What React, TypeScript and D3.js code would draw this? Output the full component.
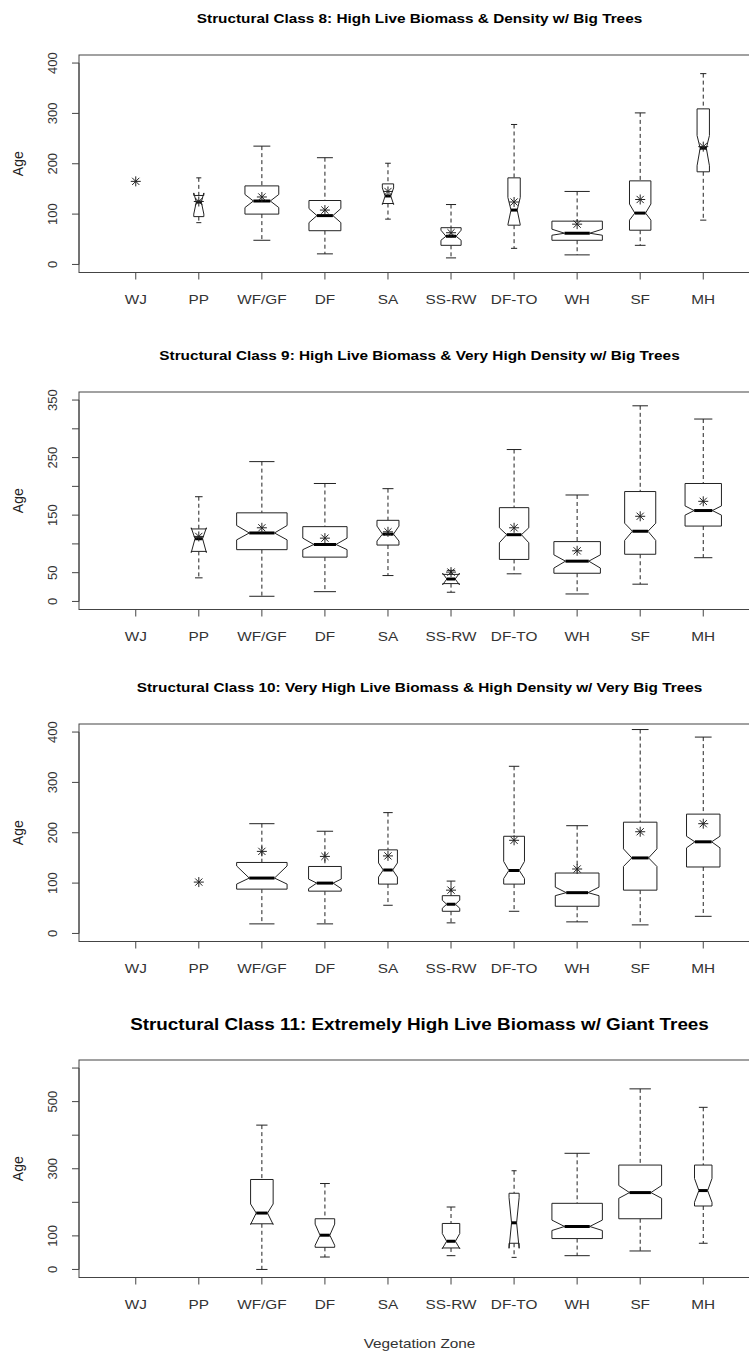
import * as d3 from 'd3'

const CATEGORIES = ['WJ', 'PP', 'WF/GF', 'DF', 'SA', 'SS-RW', 'DF-TO', 'WH', 'SF', 'MH']

// Structural class 8
const C8_LO = [null, 83, 48, 21, 90, 13, 32, 19, 38, 88]
const C8_Q1 = [null, 95, 100, 67, 121, 38, 78, 48, 68, 184]
const C8_MED = [null, 124, 126, 97, 136, 56, 108, 62, 102, 231]
const C8_Q3 = [null, 137, 156, 127, 160, 73, 172, 86, 166, 309]
const C8_HI = [null, 172, 235, 212, 201, 119, 278, 145, 301, 379]
const C8_MEAN = [165, 125, 134, 108, 145, 63, 124, 80, 129, 234]
const C8_NOTCH_LO = [null, 100, 113, 83, 119, 48, 79, 58, 88, 196]
const C8_NOTCH_HI = [null, 142, 139, 111, 152, 68, 133, 70, 120, 256]
const C8_N = [1, 4, 45, 40, 5, 16, 6, 100, 18, 6]

// Structural class 9
const C9_LO = [null, 41, 9, 17, 45, 16, 48, 13, 30, 76]
const C9_Q1 = [null, 87, 90, 77, 98, 31, 73, 49, 82, 131]
const C9_MED = [null, 109, 119, 99, 117, 39, 116, 70, 122, 158]
const C9_Q3 = [null, 126, 154, 130, 141, 47, 163, 104, 191, 205]
const C9_HI = [null, 182, 243, 205, 196, 54, 264, 185, 340, 317]
const C9_MEAN = [null, 113, 128, 110, 121, 51, 128, 88, 148, 174]
const C9_NOTCH_LO = [null, 85, 107, 90, 105, 29, 102, 58, 106, 150]
const C9_NOTCH_HI = [null, 128, 132, 110, 131, 49, 128, 81, 136, 166]
const C9_N = [0, 9, 100, 77, 19, 11, 34, 85, 38, 52]

// Structural class 10
const C10_LO = [null, null, 19, 19, 56, 21, 44, 23, 17, 34]
const C10_Q1 = [null, null, 88, 84, 98, 44, 98, 54, 86, 132]
const C10_MED = [null, null, 110, 100, 126, 58, 125, 81, 150, 182]
const C10_Q3 = [null, null, 141, 133, 166, 75, 193, 120, 221, 237]
const C10_HI = [null, null, 218, 203, 240, 104, 332, 214, 405, 390]
const C10_MEAN = [null, 102, 163, 153, 154, 86, 185, 128, 202, 218]
const C10_NOTCH_LO = [null, null, 98, 89, 112, 50, 109, 75, 133, 170]
const C10_NOTCH_HI = [null, null, 134, 108, 140, 66, 143, 92, 168, 193]
const C10_N = [0, 1, 100, 42, 14, 12, 17, 75, 44, 44]

// Structural class 11 (no means plotted)
const C11_LO = [null, null, 0, 37, null, 41, 36, 41, 55, 78]
const C11_Q1 = [null, null, 136, 66, null, 64, 78, 92, 151, 189]
const C11_MED = [null, null, 168, 102, null, 84, 139, 128, 229, 235]
const C11_Q3 = [null, null, 268, 151, null, 137, 227, 197, 311, 311]
const C11_HI = [null, null, 430, 256, null, 186, 294, 346, 538, 483]
const C11_MEAN = [null, null, null, null, null, null, null, null, null, null]
const C11_NOTCH_LO = [null, null, 134, 72, null, 62, 63, 116, 212, 200]
const C11_NOTCH_HI = [null, null, 195, 135, null, 107, 214, 147, 250, 271]
const C11_N = [0, 0, 20, 15, 0, 12, 4, 100, 72, 12]

const TITLES = [
  'Structural Class 8: High Live Biomass & Density w/ Big Trees',
  'Structural Class 9: High Live Biomass & Very High Density w/ Big Trees',
  'Structural Class 10: Very High Live Biomass & High Density w/ Very Big Trees',
  'Structural Class 11: Extremely High Live Biomass w/ Giant Trees'
]
const Y_LIMITS = [[0, 400], [0, 350], [0, 400], [0, 600]]
const Y_TICKS = [
  [0, 100, 200, 300, 400],
  [0, 50, 100, 150, 200, 250, 300, 350],
  [0, 100, 200, 300, 400],
  [0, 100, 200, 300, 400, 500, 600]
]
const Y_TICK_LABELS = [
  [0, 100, 200, 300, 400],
  [0, 50, 150, 250, 350],
  [0, 100, 200, 300, 400],
  [0, 100, 300, 500]
]

const PANELS = [
  { lo: C8_LO, q1: C8_Q1, med: C8_MED, q3: C8_Q3, hi: C8_HI, mean: C8_MEAN, nlo: C8_NOTCH_LO, nhi: C8_NOTCH_HI, n: C8_N },
  { lo: C9_LO, q1: C9_Q1, med: C9_MED, q3: C9_Q3, hi: C9_HI, mean: C9_MEAN, nlo: C9_NOTCH_LO, nhi: C9_NOTCH_HI, n: C9_N },
  { lo: C10_LO, q1: C10_Q1, med: C10_MED, q3: C10_Q3, hi: C10_HI, mean: C10_MEAN, nlo: C10_NOTCH_LO, nhi: C10_NOTCH_HI, n: C10_N },
  { lo: C11_LO, q1: C11_Q1, med: C11_MED, q3: C11_Q3, hi: C11_HI, mean: C11_MEAN, nlo: C11_NOTCH_LO, nhi: C11_NOTCH_HI, n: C11_N }
]

const WIDTH = 749
const HEIGHT = 1353
const PLOT_LEFT = 79
const PLOT_RIGHT = 760
const PLOT_H = 217.5
const PANEL_TOPS = [55, 392, 724, 1060]
const FONT = '"Liberation Sans", Arial, sans-serif'
const INK = '#222'
// the original raster is a bit stretched sideways, so horizontal text is too
const STRETCH = 1.18

function Panel({ idx }: { idx: number }) {
  const d = PANELS[idx]
  const top = PANEL_TOPS[idx]
  const bottom = top + PLOT_H
  const [a, b] = Y_LIMITS[idx]
  const pad = (b - a) * 0.04

  const x = d3.scaleLinear().domain([0.1, 10.9]).range([PLOT_LEFT, PLOT_RIGHT])
  const y = d3.scaleLinear().domain([a - pad, b + pad]).range([bottom, top])
  const nMax = d3.max(d.n) as number
  const unit = x(1) - x(0)
  const line = d3.line()

  const ticks = Y_TICKS[idx]
  const isLast = idx === 3

  return (
    <g>
      <text
        transform={`translate(${(PLOT_LEFT + PLOT_RIGHT) / 2},${top - (isLast ? 30 : 32)}) scale(${STRETCH},1)`}
        textAnchor="middle"
        fontFamily={FONT}
        fontWeight="bold"
        fontSize={isLast ? 16 : 13}
        fill="#000"
      >
        {TITLES[idx]}
      </text>

      {/* frame */}
      <rect x={PLOT_LEFT} y={top} width={PLOT_RIGHT - PLOT_LEFT} height={PLOT_H}
        fill="none" stroke="#444" strokeWidth={1} />

      {/* y axis */}
      <line x1={PLOT_LEFT} x2={PLOT_LEFT} y1={y(ticks[0])} y2={y(ticks[ticks.length - 1])} stroke="#444" />
      {ticks.map(t => (
        <line key={`yt-${t}`} x1={PLOT_LEFT - 7} x2={PLOT_LEFT} y1={y(t)} y2={y(t)} stroke="#444" />
      ))}
      {Y_TICK_LABELS[idx].map(t => (
        <text key={`yl-${t}`} transform={`translate(57,${y(t)}) rotate(-90)`}
          textAnchor="middle" fontFamily={FONT} fontSize={13} fill="#333">
          {t}
        </text>
      ))}
      <text transform={`translate(23,${(top + bottom) / 2}) rotate(-90)`}
        textAnchor="middle" fontFamily={FONT} fontSize={14} fill={INK}>
        Age
      </text>

      {/* x axis */}
      <line x1={x(1)} x2={x(10)} y1={bottom} y2={bottom} stroke="#444" />
      {CATEGORIES.map((c, i) => (
        <g key={`xt-${c}`}>
          <line x1={x(i + 1)} x2={x(i + 1)} y1={bottom} y2={bottom + 7} stroke="#444" />
          <text transform={`translate(${x(i + 1)},${bottom + 31.5}) scale(${STRETCH},1)`} textAnchor="middle"
            fontFamily={FONT} fontSize={13} fill="#333">{c}</text>
        </g>
      ))}

      {/* boxes */}
      {CATEGORIES.map((c, i) => {
        const cx = x(i + 1)
        const mean = d.mean[i]
        const star = mean != null ? (
          <g stroke={INK} strokeWidth={1}>
            <line x1={cx - 5} x2={cx + 5} y1={y(mean)} y2={y(mean)} />
            <line x1={cx} x2={cx} y1={y(mean) - 5} y2={y(mean) + 5} />
            <line x1={cx - 3.6} x2={cx + 3.6} y1={y(mean) - 3.6} y2={y(mean) + 3.6} />
            <line x1={cx - 3.6} x2={cx + 3.6} y1={y(mean) + 3.6} y2={y(mean) - 3.6} />
          </g>
        ) : null
        if (d.q1[i] == null) return <g key={`b-${c}`}>{star}</g>

        const w = 0.4 * Math.sqrt(d.n[i] / nMax) * unit
        const q1 = y(d.q1[i] as number)
        const q3 = y(d.q3[i] as number)
        const med = y(d.med[i] as number)
        const nlo = y(d.nlo[i] as number)
        const nhi = y(d.nhi[i] as number)
        const lo = y(d.lo[i] as number)
        const hi = y(d.hi[i] as number)

        const pts: [number, number][] = [
          [cx - w, q1], [cx + w, q1], [cx + w, nlo], [cx + w * 0.5, med], [cx + w, nhi],
          [cx + w, q3], [cx - w, q3], [cx - w, nhi], [cx - w * 0.5, med], [cx - w, nlo]
        ]
        return (
          <g key={`b-${c}`}>
            <line x1={cx} x2={cx} y1={hi} y2={q3} stroke={INK} strokeDasharray="4,3" />
            <line x1={cx} x2={cx} y1={q1} y2={lo} stroke={INK} strokeDasharray="4,3" />
            <line x1={cx - w / 2} x2={cx + w / 2} y1={hi} y2={hi} stroke={INK} />
            <line x1={cx - w / 2} x2={cx + w / 2} y1={lo} y2={lo} stroke={INK} />
            <path d={line(pts) + 'Z'} fill="white" stroke={INK} strokeWidth={1} />
            <line x1={cx - w / 2} x2={cx + w / 2} y1={med} y2={med} stroke="#000" strokeWidth={3} />
            {star}
          </g>
        )
      })}
    </g>
  )
}

export default function App() {
  return (
    <svg width={WIDTH} height={HEIGHT} style={{ position: 'absolute', left: 0, top: 0, background: 'white' }}>
      <rect width={WIDTH} height={HEIGHT} fill="white" />
      {PANELS.map((_, i) => <Panel key={i} idx={i} />)}
      <text transform={`translate(${(PLOT_LEFT + PLOT_RIGHT) / 2},1347.5) scale(${STRETCH},1)`} textAnchor="middle"
        fontFamily={FONT} fontSize={13} fill="#333">
        Vegetation Zone
      </text>
    </svg>
  )
}
